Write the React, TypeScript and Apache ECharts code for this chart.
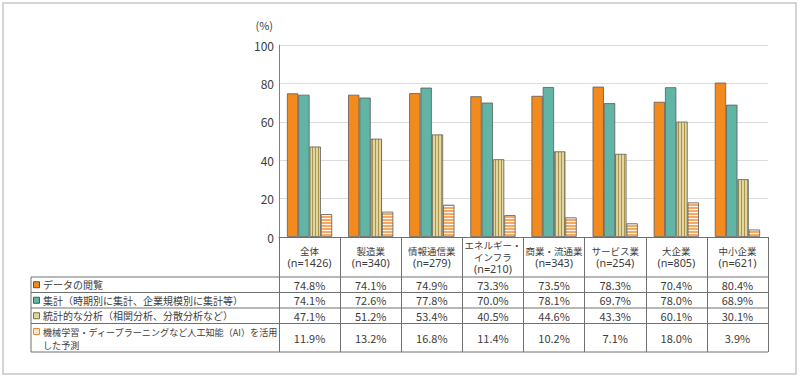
import React, { useEffect, useRef } from "react";
import * as echarts from "echarts";

const categories = [
  "全体\n(n=1426)",
  "製造業\n(n=340)",
  "情報通信業\n(n=279)",
  "エネルギー・\nインフラ\n(n=210)",
  "商業・流通業\n(n=343)",
  "サービス業\n(n=254)",
  "大企業\n(n=805)",
  "中小企業\n(n=621)",
];

const seriesNames = [
  "データの閲覧",
  "集計（時期別に集計、企業規模別に集計等）",
  "統計的な分析（相関分析、分散分析など）",
  "機械学習・ディープラーニングなど人工知能（AI）を活用\nした予測",
];

const viewValues = [74.8, 74.1, 74.9, 73.3, 73.5, 78.3, 70.4, 80.4];
const aggregateValues = [74.1, 72.6, 77.8, 70.0, 78.1, 69.7, 78.0, 68.9];
const statisticsValues = [47.1, 51.2, 53.4, 40.5, 44.6, 43.3, 60.1, 30.1];
const aiValues = [11.9, 13.2, 16.8, 11.4, 10.2, 7.1, 18.0, 3.9];

const yTicks = [0, 20, 40, 60, 80, 100];

const FONT = "'Noto Sans CJK JP', 'Noto Sans', sans-serif";
const LATIN = "'Noto Sans', 'Noto Sans CJK JP', sans-serif";
const TEXT = "#3c3c3c";

function makeStripe(vertical: boolean, bg: string, fg: string, period: number, thick: number) {
  const c = document.createElement("canvas");
  c.width = period;
  c.height = period;
  const ctx = c.getContext("2d")!;
  ctx.fillStyle = bg;
  ctx.fillRect(0, 0, period, period);
  ctx.fillStyle = fg;
  if (vertical) ctx.fillRect(0, 0, thick, period);
  else ctx.fillRect(0, 0, period, thick);
  return c;
}

export default function App() {
  const ref = useRef<HTMLDivElement>(null);

  useEffect(() => {
    if (!ref.current) return;
    const chart = echarts.init(ref.current, null, { renderer: "svg" });

    const W = 800;
    const gridLeft = 279;
    const gridRight = 768;
    const gridTop = 45;
    const axisY = 237;
    const colW = (gridRight - gridLeft) / categories.length;
    const tableLeft = 31;
    const rowLines = [277, 292.5, 308, 323.5, 352];

    const vStripe = makeStripe(true, "#E2D69E", "#A8964F", 3, 1);
    const hStripe = makeStripe(false, "#FFF6EE", "#F7A862", 3, 2);

    const colors: any[] = [
      "#F28A1D",
      "#62B4A4",
      { image: vStripe, repeat: "repeat" },
      { image: hStripe, repeat: "repeat" },
    ];
    const markerFill = ["#F28A1D", "#62B4A4", "#E3D69A", "#FFE2C4"];
    const markerStroke = ["#6b4a2a", "#3d5e58", "#7a6f45", "#E58A3A"];
    const seriesData = [viewValues, aggregateValues, statisticsValues, aiValues];

    const graphics: any[] = [];
    graphics.push({
      type: "rect",
      shape: { x: 3, y: 3, width: 793, height: 371 },
      style: { fill: "none", stroke: "#c6c6c6", lineWidth: 1.5 },
      silent: true,
    });
    rowLines.forEach((y) => {
      graphics.push({
        type: "line",
        shape: { x1: tableLeft, y1: y, x2: gridRight, y2: y },
        style: { stroke: "#707070", lineWidth: 1 },
        silent: true,
      });
    });
    graphics.push({
      type: "line",
      shape: { x1: tableLeft, y1: rowLines[0], x2: tableLeft, y2: rowLines[4] },
      style: { stroke: "#707070", lineWidth: 1 },
      silent: true,
    });

    seriesData.forEach((vals, r) => {
      const top = rowLines[r];
      const bottom = rowLines[r + 1];
      const cy = (top + bottom) / 2;
      const lines = seriesNames[r].split("\n");
      const multi = lines.length > 1;
      const labelY = multi ? top + 8 : cy;
      graphics.push({
        type: "rect",
        shape: { x: 33.5, y: labelY - 3, width: 6, height: 6 },
        style: { fill: markerFill[r], stroke: markerStroke[r], lineWidth: 1 },
        silent: true,
      });
      graphics.push({
        type: "text",
        x: 43,
        y: multi ? top + 2 : cy,
        style: {
          text: seriesNames[r],
          fontFamily: FONT,
          fontSize: multi ? 9.1 : 10,
          lineHeight: 13,
          fill: TEXT,
          textAlign: "left",
          textVerticalAlign: multi ? "top" : "middle",
        },
        silent: true,
      });
      vals.forEach((v, i) => {
        graphics.push({
          type: "text",
          x: gridLeft + colW * (i + 0.5),
          y: cy,
          style: {
            text: v.toFixed(1) + "%",
            fontFamily: FONT,
            fontSize: 11,
            fill: TEXT,
            textAlign: "center",
            textVerticalAlign: "middle",
          },
          silent: true,
        });
      });
    });

    chart.setOption({
      animation: false,
      backgroundColor: "#ffffff",
      textStyle: { fontFamily: FONT },
      grid: {
        left: gridLeft,
        right: W - gridRight,
        top: gridTop,
        bottom: 380 - axisY,
        containLabel: false,
      },
      xAxis: {
        type: "category",
        data: categories,
        axisLine: { show: true, lineStyle: { color: "#707070", width: 1 } },
        axisTick: {
          show: true,
          interval: 0,
          length: rowLines[4] - axisY,
          lineStyle: { color: "#707070", width: 1 },
        },
        axisLabel: {
          interval: 0,
          margin: 20,
          verticalAlign: "middle",
          color: TEXT,
          fontFamily: FONT,
          formatter: (val: string) =>
            val
              .split("\n")
              .map((s) => (s.startsWith("(") ? `{n|${s}}` : `{c|${s}}`))
              .join("\n"),
          rich: {
            c: { fontSize: 9.5, lineHeight: 11.5, color: TEXT, fontFamily: FONT },
            n: { fontSize: 10.8, lineHeight: 12, color: TEXT, fontFamily: LATIN },
          },
        },
      },
      yAxis: {
        type: "value",
        min: 0,
        max: 100,
        interval: 20,
        name: "(%)",
        nameLocation: "end",
        nameGap: 15,
        nameTextStyle: {
          fontSize: 11,
          color: TEXT,
          align: "right",
          padding: [0, 6, 0, 0],
          fontFamily: FONT,
        },
        axisLine: { show: true, lineStyle: { color: "#808080", width: 1 } },
        axisTick: { show: false },
        axisLabel: {
          fontSize: 12,
          color: TEXT,
          margin: 5,
          fontFamily: FONT,
          customValues: yTicks,
        },
        splitLine: { show: true, lineStyle: { color: "#dcdcdc", width: 1 } },
      },
      series: seriesData.map((vals, i) => ({
        name: seriesNames[i].replace("\n", ""),
        type: "bar",
        data: vals,
        barGap: "0%",
        barCategoryGap: "26%",
        itemStyle: {
          color: colors[i],
          borderColor: "#5a5a5a",
          borderWidth: 0.8,
        },
      })),
      graphic: graphics,
    });

    return () => chart.dispose();
  }, []);

  return (
    <div
      ref={ref}
      style={{ position: "fixed", left: 0, top: 0, width: 800, height: 380 }}
    />
  );
}
